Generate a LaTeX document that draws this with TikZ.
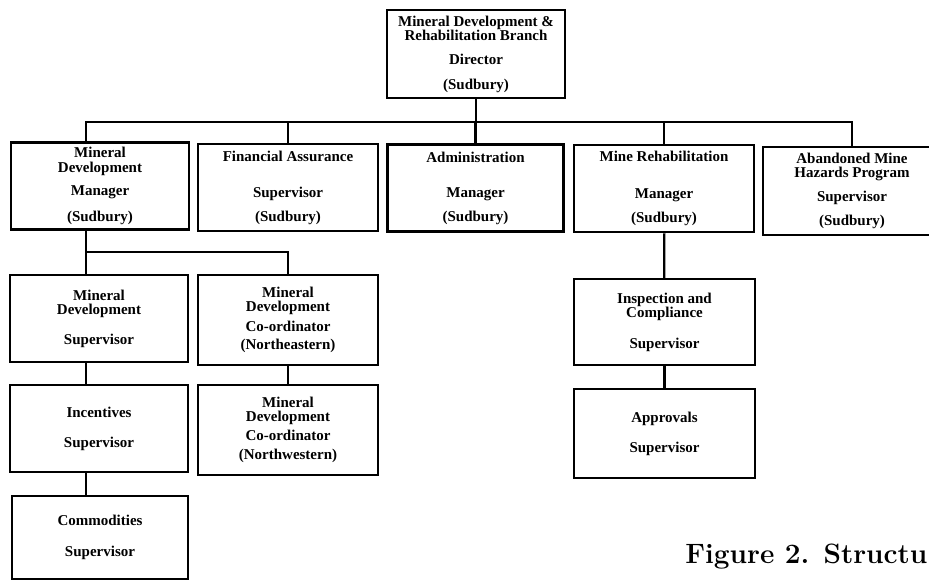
\documentclass[tikz,border=0pt]{standalone}
\usepackage{fontspec}
\newfontfamily\boxfont{Liberation Serif}
\usetikzlibrary{positioning}

\begin{document}
\begin{tikzpicture}[x=1pt,y=-1pt,thick]

\tikzstyle{unit}=[draw,line width=2.5pt,minimum width=178pt,minimum height=87pt,inner sep=0pt,align=center,font=\boxfont\bfseries\fontsize{15}{15}\selectfont]
\tikzstyle{link}=[line width=2.2pt]

\useasboundingbox (0,0) rectangle (929,581);
\clip (0,0) rectangle (929,581);

% branch head
\node[unit,minimum height=88pt] (dir) at (476,54) {Mineral Development \&\\[-1pt]Rehabilitation Branch\\[9pt]Director\\[10pt](Sudbury)};

% first row
\node[unit] (mdm) at (100,186) {Mineral\\[0pt]Development\\[8pt]Manager\\[11pt](Sudbury)};
\node[unit,minimum width=180pt] (fin) at (288,187.5) {Financial Assurance\\[21pt]Supervisor\\[9pt](Sudbury)};
\node[unit,minimum width=176pt] (adm) at (475.5,188) {Administration\\[20pt]Manager\\[9pt](Sudbury)};
\node[unit,minimum width=180pt] (mrb) at (664,188.5) {Mine Rehabilitation\\[22pt]Manager\\[9pt](Sudbury)};
\node[unit,minimum height=88pt] (amh) at (852,191) {Abandoned Mine\\[-1pt]Hazards Program\\[9pt]Supervisor\\[9pt](Sudbury)};

% mineral development side
\node[unit] (mds) at (99,318.5) {Mineral\\[-1pt]Development\\[15pt]Supervisor};
\node[unit,minimum width=180pt,minimum height=90pt] (cne) at (288,320) {Mineral\\[-1pt]Development\\[5pt]Co-ordinator\\[3pt](Northeastern)};
\node[unit] (inc) at (99,428.5) {Incentives\\[15pt]Supervisor};
\node[unit,minimum width=180pt,minimum height=90pt] (cnw) at (288,430) {Mineral\\[-1pt]Development\\[4pt]Co-ordinator\\[4pt](Northwestern)};
\node[unit,minimum width=176pt,minimum height=83pt] (com) at (100,537.5) {Commodities\\[16pt]Supervisor};

% mine rehabilitation side
\node[unit,minimum width=181pt,minimum height=86pt] (ins) at (664.5,322) {Inspection and\\[-1pt]Compliance\\[16pt]Supervisor};
\node[unit,minimum width=181pt,minimum height=89pt] (apr) at (664.5,433.5) {Approvals\\[15pt]Supervisor};

\node[anchor=base west,inner sep=0pt,font=\bfseries\fontsize{28}{30}\selectfont] (cap) at (685,563) {Figure 2. Structu};

\coordinate (bus) at (0,122);
\coordinate (sub) at (0,252);
\coordinate (lc) at (86,0);

\draw[link] (dir.south) -- (dir.south |- bus);
\draw[link] (lc |- mdm.north) -- (lc |- bus) -- (amh.north |- bus) -- (amh.north);
\foreach \n in {fin,adm,mrb}
    \draw[link] (\n.north |- bus) -- (\n.north);

\draw[link] (lc |- mdm.south) -- (lc |- sub) -| (cne.north);
\draw[link] (lc |- sub) -- (lc |- mds.north);
\draw[link] (lc |- mds.south) -- (lc |- inc.north);
\draw[link] (lc |- inc.south) -- (lc |- com.north);
\draw[link] (cne) -- (cnw);

\draw[link] (mrb) -- (ins);
\draw[link] (ins) -- (apr);

\end{tikzpicture}
\end{document}
